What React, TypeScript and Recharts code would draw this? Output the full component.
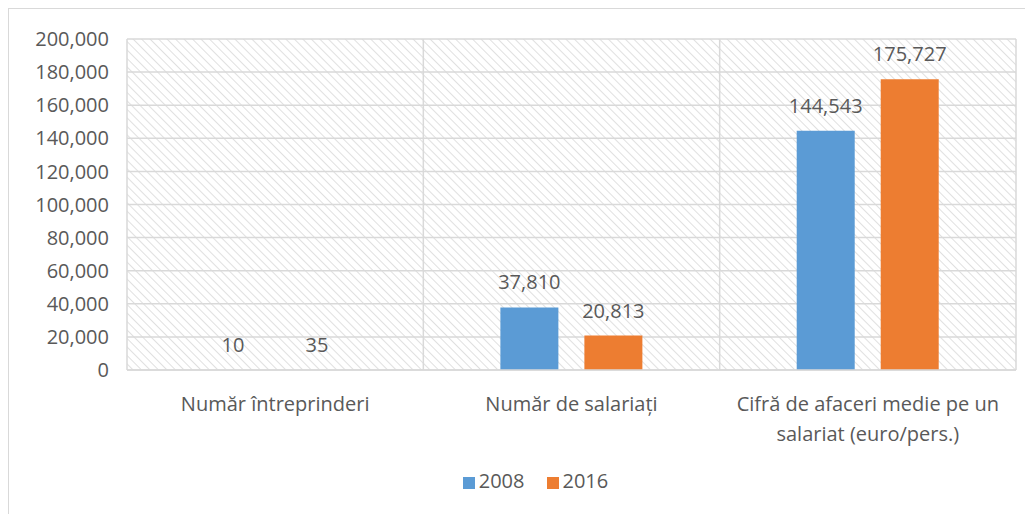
import { BarChart, Bar, XAxis, YAxis, CartesianGrid, Legend, LabelList } from 'recharts'

const categories = ['Număr întreprinderi', 'Număr de salariați', 'Cifră de afaceri medie pe un salariat (euro/pers.)']
const values2008 = [10, 37810, 144543]
const values2016 = [35, 20813, 175727]
const yTicks = [0, 20000, 40000, 60000, 80000, 100000, 120000, 140000, 160000, 180000, 200000]

const data = categories.map((name, i) => ({ name, y2008: values2008[i], y2016: values2016[i] }))

const FONT = '"Open Sans", sans-serif'
const TEXT = '#595959'
const FS = 20
const fmt = (v: number) => v.toLocaleString('en-US')

// greedy word wrap by character count
function wrap(label: string, maxChars: number) {
    const lines: string[] = []
    let cur = ''
    for (const w of label.split(' ')) {
        const next = cur ? cur + ' ' + w : w
        if (next.length > maxChars && cur) {
            lines.push(cur)
            cur = w
        } else {
            cur = next
        }
    }
    if (cur) lines.push(cur)
    return lines
}

function CategoryTick(props: any) {
    const { x, y, payload } = props
    const lines = wrap(String(payload.value), 28)
    return (
        <text x={x} y={y + 33} textAnchor="middle" fontSize={FS} fontFamily={FONT} fill={TEXT}>
            {lines.map((l, i) => (
                <tspan key={i} x={x} dy={i === 0 ? 0 : 30}>
                    {l}
                </tspan>
            ))}
        </text>
    )
}

export default function App() {
    return (
        <div style={{ borderLeft: '1px solid #d9d9d9', borderTop: '1px solid #d9d9d9', width: 1024, height: 505, fontFamily: FONT }}>
            <BarChart
                width={1016}
                height={505}
                data={data}
                margin={{ top: 30, right: 9, left: 0, bottom: 20 }}
                barCategoryGap="26%"
                barGap={26}>
                <defs>
                    <pattern id="hatch" width="6" height="6" patternUnits="userSpaceOnUse" patternTransform="rotate(-45)">
                        <rect width="6" height="6" fill="#ffffff" />
                        <line x1="0" y1="0" x2="0" y2="6" stroke="#d9d9d9" strokeWidth={1.6} />
                    </pattern>
                </defs>
                <CartesianGrid
                    fill="url(#hatch)"
                    stroke="#d9d9d9"
                    strokeWidth={1.5}
                    verticalCoordinatesGenerator={({ offset }: any) =>
                        categories.map((_, i) => offset.left + (offset.width * i) / categories.length).concat(offset.left + offset.width)
                    }
                />
                <XAxis
                    dataKey="name"
                    tick={<CategoryTick />}
                    tickLine={false}
                    axisLine={{ stroke: '#d9d9d9', strokeWidth: 1.5 }}
                    height={97}
                    interval={0}
                />
                <YAxis
                    domain={[0, 200000]}
                    ticks={yTicks}
                    tickFormatter={fmt}
                    tickLine={false}
                    axisLine={false}
                    width={118}
                    tickMargin={12}
                    tick={{ fontSize: FS, fontFamily: FONT, fill: TEXT }}
                />
                <Legend
                    verticalAlign="bottom"
                    iconType="square"
                    iconSize={12}
                    wrapperStyle={{ fontSize: FS, fontFamily: FONT, color: TEXT, paddingLeft: 34 }}
                    formatter={(v: string) => <span style={{ color: TEXT, marginRight: 12 }}>{v}</span>}
                />
                <Bar dataKey="y2008" name="2008" fill="#5b9bd5" isAnimationActive={false}>
                    <LabelList dataKey="y2008" position="top" offset={18} formatter={fmt} fontSize={FS} fontFamily={FONT} fill={TEXT} />
                </Bar>
                <Bar dataKey="y2016" name="2016" fill="#ed7d31" isAnimationActive={false}>
                    <LabelList dataKey="y2016" position="top" offset={18} formatter={fmt} fontSize={FS} fontFamily={FONT} fill={TEXT} />
                </Bar>
            </BarChart>
        </div>
    )
}
